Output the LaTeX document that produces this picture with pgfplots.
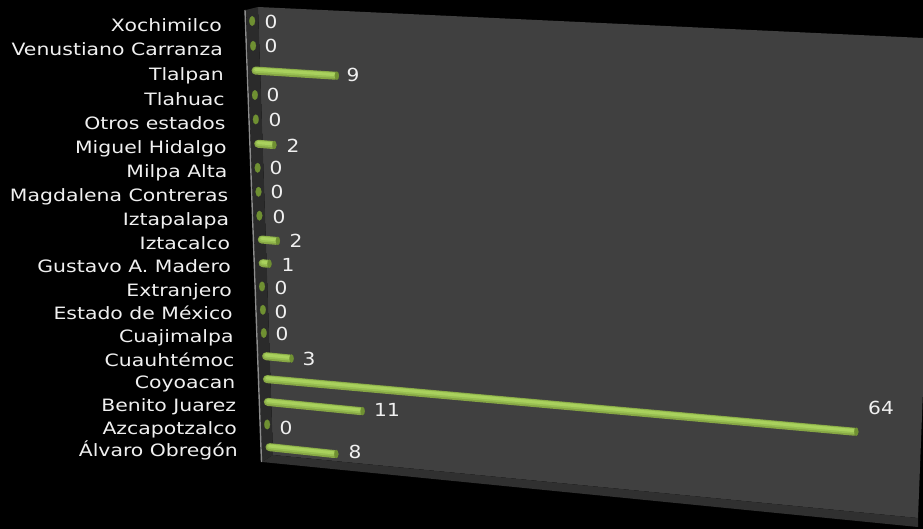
\documentclass[border=0pt]{standalone}
\usepackage{pgfplots}
\usepackage{pgfplotstable}
\usepackage{fontspec}
\setmainfont{DejaVu Sans}
\pgfplotsset{compat=1.18}
\definecolor{wall}{HTML}{404040}
\definecolor{side}{HTML}{2B2B2B}
\definecolor{floorc}{HTML}{303030}
\definecolor{edge}{HTML}{8C8C8C}
\definecolor{gdark}{HTML}{86A644}
\definecolor{gmid}{HTML}{98BF52}
\definecolor{glight}{HTML}{A9D15D}
\definecolor{gcap}{HTML}{6F9032}
\definecolor{lab}{HTML}{F0F0F0}
% label positions in pixels of the picture
\pgfplotstableread{
lx ly t
271 22 0
271 46 0
353 75 9
273 95 0
275 120 0
293 146 2
276 168 0
277 192 0
279 217 0
296 241 2
288 265 1
281 288 0
281 312 0
282 334 0
309 359 3
881 408 64
387 410 11
286 428 0
355 452 8
}\labels
% value and row of each category
\pgfplotstableread{
v r
8 0
0 1
11 2
64 3
3 4
0 5
0 6
0 7
1 8
2 9
0 10
0 11
0 12
2 13
0 14
0 15
9 16
0 17
0 18
}\data
\newcommand\cyl[2]{%
  \def\xe{\thisrow{v}-(\thisrow{v}>0)*(0.9*(\thisrow{r}<4)+0.33*(\thisrow{r}>=4))}%
  \def\ye{\thisrow{r}-0.392*\thisrow{v}*(0.1-0.0025*\thisrow{r})}%
  \addplot[gdark,line width=8pt,line cap=round,shorten <=1.5pt] table[row sep=\\,x expr={\xe},y expr={\ye}] {v r\\ 0 #2\\ #1 #2\\};
  \addplot[gmid,line width=5.5pt,line cap=round,shorten <=1.5pt,yshift=0.6pt] table[row sep=\\,x expr={\xe},y expr={\ye}] {v r\\ 0 #2\\ #1 #2\\};
  \addplot[glight,line width=3pt,line cap=round,shorten <=1.5pt,yshift=1.1pt] table[row sep=\\,x expr={\xe},y expr={\ye}] {v r\\ 0 #2\\ #1 #2\\};
  \addplot[only marks,mark=*,mark size=4.1pt,mark options={xscale=0.5,draw=gcap,fill=gcap,line width=0.2pt,line join=round},shift={(2pt,0)}] table[row sep=\\,x expr={\xe},y expr={\ye}] {v r\\ #1 #2\\};
}
\begin{document}
\begin{tikzpicture}[x=1pt,y=1pt]
\path[use as bounding box,fill=black] (0,0) rectangle (923,529);
\begin{axis}[
  at={(0,0)},anchor=south west,hide axis,scale only axis,
  width=923pt,height=529pt,xmin=0,xmax=923,ymin=0,ymax=529,y dir=reverse,
  nodes near coords align={anchor=center},
  every node near coord/.append style={font=\fontsize{18}{20}\selectfont,text=lab,anchor=center,inner sep=0pt,xscale=1.12},
]
\fill[wall] (258,7) -- (923,38) -- (923,390) -- (918,518) -- (273,455) -- cycle;
\fill[side] (246,10) -- (258,7) -- (273,455) -- (262,462) -- cycle;
\fill[floorc] (273,455) -- (918,518) -- (918,527) -- (262,462) -- cycle;
\draw[edge,line width=1.4pt] (245,10) -- (261.5,462);
\addplot[only marks,mark=none,point meta=explicit symbolic,nodes near coords]
  table[x=lx,y=ly,meta=t] {\labels};
\end{axis}
\begin{axis}[
  at={(268pt,82pt)},anchor=origin,
  x={(9.3pt,0pt)},y={(-0.88pt,23.7pt)},
  y coord trafo/.code={\pgfmathparse{0.948*(#1)+0.00281*(#1)*(#1)}},
  xmin=0,xmax=70,ymin=-0.5,ymax=18.5,clip=false,
  axis x line=bottom,axis y line=left,axis line style={draw=none},
  xtick=\empty,ytick={0,...,18},major tick length=0pt,tick style={draw=none},
  yticklabels={Álvaro Obregón,Azcapotzalco,Benito Juarez,Coyoacan,Cuauhtémoc,Cuajimalpa,Estado de México,Extranjero,Gustavo A. Madero,Iztacalco,Iztapalapa,Magdalena Contreras,Milpa Alta,Miguel Hidalgo,Otros estados,Tlahuac,Tlalpan,Venustiano Carranza,Xochimilco},
  yticklabel style={font=\fontsize{17}{19}\selectfont,text=lab,anchor=east,xshift=-30pt,yshift=-6pt,text height=11pt,text depth=3pt,inner sep=0pt,xscale=1.2},
]
\addplot[only marks,mark=*,mark size=4.8pt,mark options={xscale=0.6,draw=gcap,fill=gcap,line width=0.2pt,line join=round}]
  table[x=v,y=r,restrict expr to domain={\thisrow{v}}{0:0}] {\data};
\cyl{8}{0}
\cyl{11}{2}
\cyl{64}{3}
\cyl{3}{4}
\cyl{1}{8}
\cyl{2}{9}
\cyl{2}{13}
\cyl{9}{16}
\end{axis}
\end{tikzpicture}
\end{document}
